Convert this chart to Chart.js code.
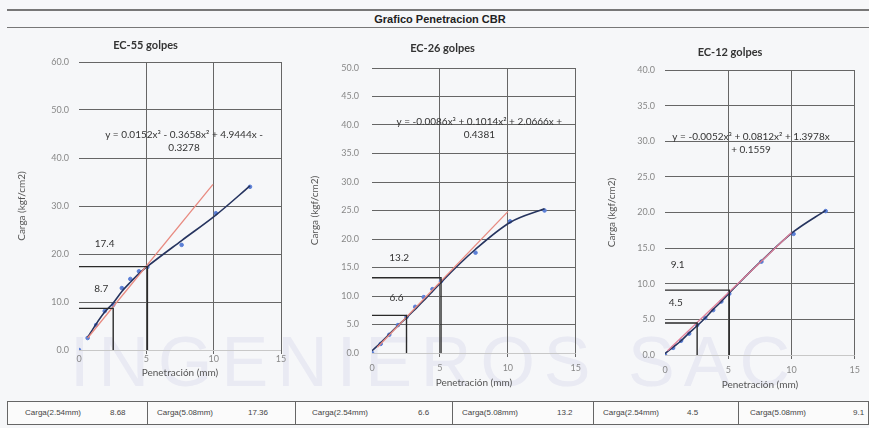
<!DOCTYPE html>
<html>
<head>
<meta charset="utf-8">
<script src="https://cdn.jsdelivr.net/npm/chart.js@4.4.1/dist/chart.umd.min.js"></script>
<style>
  body { margin: 0; width: 869px; height: 428px; background: #f6f7f9; position: relative; overflow: hidden; font-family: Lato, sans-serif; }
  .linea { position: absolute; left: 7px; right: 0; height: 0; border-top: 2px solid #777; }
  #titulo { position: absolute; left: 0; width: 880px; top: 13px; text-align: center; font: bold 11px "Liberation Sans Narrow", "Liberation Sans", sans-serif; color: #222; }
  canvas { position: absolute; }
  #marca { position: absolute; left: 0; top: 322px; width: 869px; text-align: center; font: 70px "Liberation Sans", sans-serif; letter-spacing: 9px; color: rgba(150, 150, 205, 0.13); white-space: nowrap; }
  .celda { position: absolute; top: 401px; height: 24px; border: 1px solid #666; background: #fbfbfb; box-sizing: border-box; }
  .txt { position: absolute; top: 401px; font: 8px "Liberation Sans Narrow", "Liberation Sans", sans-serif; line-height: 24px; color: #444; white-space: nowrap; }
</style>
</head>
<body>
<div class="linea" style="top:9px"></div>
<div id="titulo">Grafico Penetracion CBR</div>
<div class="linea" style="top:27px; border-top-width:1px"></div>
<div id="marca">INGENIEROS SAC</div>

<canvas id="c55" style="left:10px; top:30px"></canvas>
<canvas id="c26" style="left:305px; top:30px"></canvas>
<canvas id="c12" style="left:602px; top:30px"></canvas>

<div id="tabla"></div>

<script>
// Penetración (mm) de cada lectura
const penetracion = [0, 0.64, 1.27, 1.91, 2.54, 3.18, 3.81, 4.45, 5.08, 7.62, 10.16, 12.70];

// EC-55 golpes
const carga55 = [0, 2.5, 5.2, 8.1, 9.4, 12.9, 14.8, 16.4, 17.3, 21.9, 28.5, 34.0];
const ajuste55 = [null, 2.6, 5.4, 7.9, 9.8, 12.2, 14.1, 15.9, 17.4, 22.8, 28.1, 34.2];
const tangente55X = [0.64, 9.95];
const tangente55Y = [2.5, 34.5];
const cbr55 = [8.68, 17.36];
const ecuacion55 = ["y = 0.0152x\u00b3 - 0.3658x\u00b2 + 4.9444x -", "0.3278"];

// EC-26 golpes
const carga26 = [0, 1.6, 3.2, 4.9, 6.3, 8.1, 9.8, 11.2, 12.6, 17.6, 23.1, 25.0];
const ajuste26 = [0.4, 1.8, 3.3, 4.8, 6.2, 7.7, 9.2, 10.8, 12.4, 18.2, 22.9, 25.3];
const tangente26X = [0.4, 10.0];
const tangente26Y = [1.0, 24.8];
const cbr26 = [6.6, 13.2];
const ecuacion26 = ["y = -0.0086x\u00b3 + 0.1014x\u00b2 + 2.0666x +", "0.4381"];

// EC-12 golpes
const carga12 = [0, 1.0, 2.0, 3.0, 4.2, 5.2, 6.3, 7.5, 8.6, 13.1, 17.0, 20.2];
const ajuste12 = [0.2, 1.1, 2.0, 3.1, 4.1, 5.2, 6.4, 7.5, 8.7, 13.2, 17.3, 20.3];
const tangente12X = [0.2, 10.0];
const tangente12Y = [0.6, 17.2];
const cbr12 = [4.5, 9.1];
const ecuacion12 = ["y = -0.0052x\u00b3 + 0.0812x\u00b2 + 1.3978x", "+ 0.1559"];

// penetraciones de referencia
const penRef = [2.54, 5.08];

// tabla inferior
const tablaTextos = ["Carga(2.54mm)", "Carga(5.08mm)", "Carga(2.54mm)", "Carga(5.08mm)", "Carga(2.54mm)", "Carga(5.08mm)"];
const tablaValores = ["8.68", "17.36", "6.6", "13.2", "4.5", "9.1"];

const notas = {
  id: "notas",
  afterDatasetsDraw(chart, args, opts) {
    const { ctx, scales: { x, y } } = chart;
    ctx.save();
    ctx.font = "10px Lato";
    ctx.fillStyle = "#333";
    ctx.textAlign = "center";
    ctx.textBaseline = "middle";
    opts.valores.forEach((v, i) => {
      ctx.fillText(v.toFixed(1), x.getPixelForValue(opts.posX[i]), y.getPixelForValue(v) - opts.dy[i]);
    });
    opts.ecuacion.forEach((t, i) => {
      ctx.fillText(t, x.getPixelForValue(opts.ecX), y.getPixelForValue(opts.ecY) + i * 13);
    });
    ctx.restore();
  }
};

function puntos(xs, ys) {
  return xs.map((x, i) => ({ x: x, y: ys[i] })).filter(p => p.y !== null);
}

function crearGrafico(id, c) {
  const el = document.getElementById(id);
  el.width = c.w; el.height = c.h;
  el.style.width = c.w + "px"; el.style.height = c.h + "px";
  const refs = [];
  c.cbr.forEach((v, i) => {
    refs.push({
      data: [{ x: 0, y: v }, { x: penRef[i], y: v }, { x: penRef[i], y: 0 }],
      showLine: true, borderColor: "#2a2a2a", borderWidth: 1.4, pointRadius: 0, fill: false
    });
  });
  return new Chart(el, {
    type: "scatter",
    data: {
      datasets: [
        ...refs,
        { data: puntos(c.tanX, c.tanY), showLine: true, borderColor: c.rojo, borderWidth: 1.3, pointRadius: 0 },
        { data: puntos(penetracion, c.ajuste), showLine: true, borderColor: "#26345f", borderWidth: 1.6, pointRadius: 0, cubicInterpolationMode: "monotone" },
        { data: puntos(penetracion, c.carga), showLine: false, pointRadius: 1.8, pointBackgroundColor: "#5b7fd6", pointBorderColor: "#5b7fd6" }
      ]
    },
    options: {
      responsive: false,
      animation: false,
      layout: { padding: { right: c.padR } },
      plugins: {
        legend: { display: false },
        tooltip: { enabled: false },
        title: { display: true, text: c.titulo, color: "#333", font: { family: "Lato", size: 11 }, padding: c.tituloPad },
        notas: { valores: c.cbr, posX: c.labX, dy: c.labDy, ecuacion: c.ecuacion, ecX: c.ecX, ecY: c.ecY }
      },
      scales: {
        x: {
          type: "linear", min: 0, max: 15,
          ticks: { stepSize: 5, color: "#888", font: { family: "Lato", size: 9 }, padding: c.xPad, maxRotation: 0 },
          grid: { color: ctx => ctx.tick && ctx.tick.value === 0 ? "rgba(0,0,0,0)" : "#666", tickLength: 4 },
          border: { display: false },
          title: { display: true, text: "Penetración (mm)", color: "#555", font: { family: "Lato", size: 10 }, padding: { top: 0, bottom: 1 } },
          afterFit: s => { s.height = c.xAlto; }
        },
        y: {
          min: 0, max: c.yMax,
          ticks: { stepSize: c.yPaso, color: "#888", font: { family: "Lato", size: 9 }, padding: c.yPad, callback: v => v.toFixed(1) },
          grid: { color: ctx => ctx.tick && ctx.tick.value === 0 ? "#c8c8c8" : "#666", drawTicks: false },
          border: { display: false },
          title: { display: true, text: "Carga (kgf/cm2)", color: "#555", font: { family: "Lato", size: 10 }, padding: { top: c.yTitPad, bottom: 0 } },
          afterFit: s => { s.width = c.yAncho; }
        }
      }
    },
    plugins: [notas]
  });
}

crearGrafico("c55", {
  w: 282, h: 350, padR: 11, yAncho: 69, xAlto: 30, xPad: 0, yPad: 10, yTitPad: 6,
  yMax: 60, yPaso: 10, titulo: "EC-55 golpes", tituloPad: { top: 8.4, bottom: 10.4 }, rojo: "#e88a80",
  carga: carga55, ajuste: ajuste55, tanX: tangente55X, tanY: tangente55Y, cbr: cbr55,
  labX: [1.65, 1.9], labDy: [20, 23], ecuacion: ecuacion55, ecX: 7.8, ecY: 44.8
});

crearGrafico("c26", {
  w: 282, h: 360, padR: 7, yAncho: 67, xAlto: 37, xPad: 6, yPad: 13, yTitPad: 4,
  yMax: 50, yPaso: 5, titulo: "EC-26 golpes", tituloPad: { top: 11.4, bottom: 13.4 }, rojo: "#e88a80",
  carga: carga26, ajuste: ajuste26, tanX: tangente26X, tanY: tangente26Y, cbr: cbr26,
  labX: [1.8, 2.0], labDy: [18, 20], ecuacion: ecuacion26, ecX: 7.9, ecY: 40.5
});

crearGrafico("c12", {
  w: 264, h: 362, padR: 8, yAncho: 63, xAlto: 37, xPad: 6, yPad: 10, yTitPad: 4,
  yMax: 40, yPaso: 5, titulo: "EC-12 golpes", tituloPad: { top: 15.4, bottom: 11.4 }, rojo: "#e0809a",
  carga: carga12, ajuste: ajuste12, tanX: tangente12X, tanY: tangente12Y, cbr: cbr12,
  labX: [0.85, 1.0], labDy: [20, 25], ecuacion: ecuacion12, ecX: 6.8, ecY: 30.6
});

// tabla de resultados
const bordes = [7, 147, 295, 452, 593, 738, 868];
const posTexto = [25, 157, 312, 462, 603, 750];
const posValor = [110, 248, 418, 557, 687, 853];
const tabla = document.getElementById("tabla");
tablaTextos.forEach((t, i) => {
  const d = document.createElement("div");
  d.className = "celda";
  d.style.left = bordes[i] + "px";
  d.style.width = (bordes[i + 1] - bordes[i] + 1) + "px";
  tabla.appendChild(d);
  const a = document.createElement("div");
  a.className = "txt"; a.style.left = posTexto[i] + "px"; a.textContent = t;
  tabla.appendChild(a);
  const b = document.createElement("div");
  b.className = "txt"; b.style.left = posValor[i] + "px"; b.textContent = tablaValores[i];
  tabla.appendChild(b);
});
</script>
</body>
</html>
